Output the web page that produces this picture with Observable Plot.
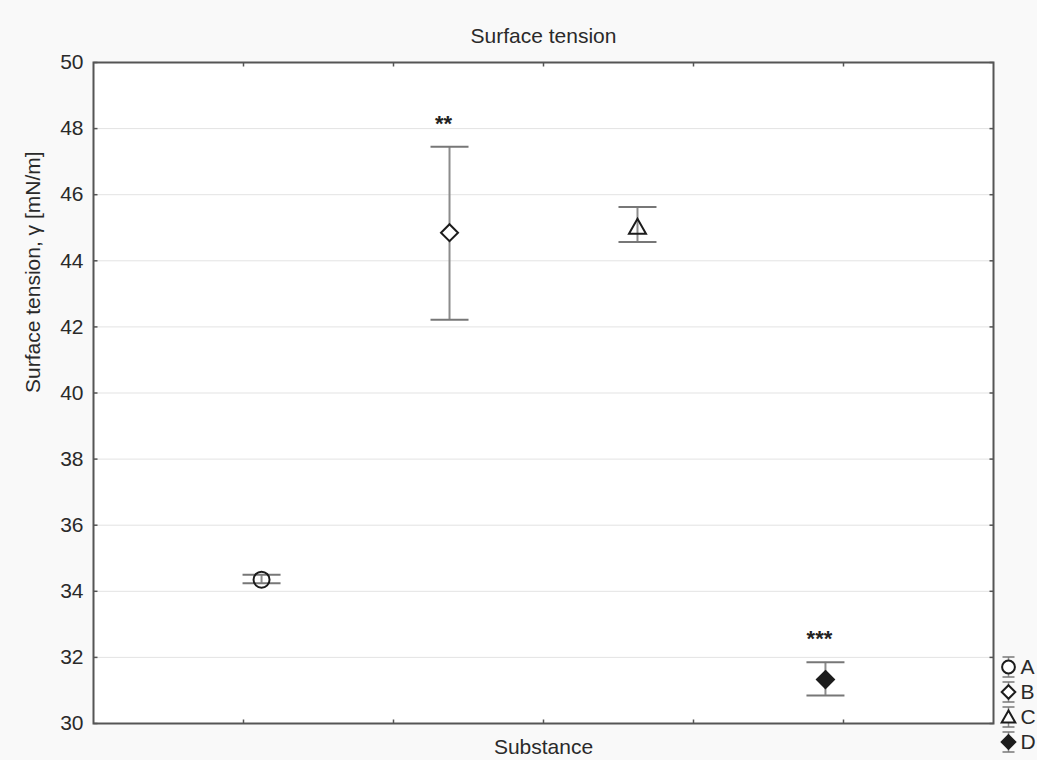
<!DOCTYPE html>
<html>
<head>
<meta charset="utf-8">
<script src="https://cdn.jsdelivr.net/npm/d3@7"></script>
<script src="https://cdn.jsdelivr.net/npm/@observablehq/plot@0.6"></script>
<style>
  html, body { margin: 0; padding: 0; background: #f9f9f9; }
  #wrap { position: relative; width: 1037px; height: 760px; overflow: hidden; }
  #legend { position: absolute; left: 998px; top: 654px; width: 60px; }
  #legend svg { max-width: none !important; }
</style>
</head>
<body>
<div id="wrap"><div id="chart"></div><div id="legend"></div></div>
<script>
// ---- data ----
const substances = ["A", "B", "C", "D"];
const means = [34.35, 44.85, 45.03, 31.33];
const lowers = [34.24, 42.22, 44.57, 30.85];
const uppers = [34.50, 47.45, 45.63, 31.85];
const significance = ["", "**", "", "***"];
const yTicks = [30, 32, 34, 36, 38, 40, 42, 44, 46, 48, 50];
const titleText = "Surface tension";
const xLabel = "Substance";
const yLabel = "Surface tension, \u03b3 [mN/m]";

// ---- styles ----
const FONT = "'Liberation Sans', Arial, Helvetica, sans-serif";
const markerKinds = ["circle", "diamond", "triangle", "diamond"];
const markerFills = ["none", "white", "none", "#1c1c1c"];

const rows = substances.map((s, i) => ({
  substance: s, pos: i + 1, mean: means[i], lo: lowers[i], hi: uppers[i], sig: significance[i]
}));

// custom symbols (pixel-sized)
const hline = w => ({draw(ctx) { ctx.moveTo(-w / 2, 0); ctx.lineTo(w / 2, 0); }});
const vline = (a, b) => ({draw(ctx) { ctx.moveTo(0, a); ctx.lineTo(0, b); }});
const tickLine = (dx, dy) => ({draw(ctx) { ctx.moveTo(0, 0); ctx.lineTo(dx, dy); }});
function shape(kind, k) {
  if (kind === "circle") return {draw(ctx) { const r = 8 * k; ctx.moveTo(r, 0); ctx.arc(0, 0, r, 0, 2 * Math.PI); ctx.closePath(); }};
  if (kind === "diamond") return {draw(ctx) { const r = 8.5 * k; ctx.moveTo(0, -r); ctx.lineTo(r, 0); ctx.lineTo(0, r); ctx.lineTo(-r, 0); ctx.closePath(); }};
  return {draw(ctx) { const w = 8.5 * k; ctx.moveTo(0, -8 * k); ctx.lineTo(w, 7 * k); ctx.lineTo(-w, 7 * k); ctx.closePath(); }};
}

// x: linear positions 1..4 with outer padding; frame ticks divide the frame into sixths
const pad = 0.894;
const xDomain = [1 - pad, substances.length + pad];
const xTicks = d3.range(1, 6).map(k => xDomain[0] + k * (xDomain[1] - xDomain[0]) / 6);

const frameColor = "#555";
const barColor = "#8c8c8c";
const textColor = "#2a2a2a";

const chart = Plot.plot({
  width: 1037,
  height: 760,
  marginLeft: 93,
  marginRight: 44,
  marginTop: 62,
  marginBottom: 37,
  style: {fontFamily: FONT, fontSize: "21px", background: "transparent", color: textColor},
  x: {domain: xDomain, axis: null},
  y: {domain: [30, 50], axis: null},
  marks: [
    Plot.frame({fill: "white", stroke: null}),
    Plot.gridY(yTicks, {stroke: "#e3e3e3", strokeOpacity: 1, strokeWidth: 1}),
    // inward ticks
    Plot.dot(yTicks, {y: d => d, frameAnchor: "left", symbol: tickLine(4, 0), stroke: frameColor, strokeWidth: 1.5}),
    Plot.dot(yTicks, {y: d => d, frameAnchor: "right", symbol: tickLine(-4, 0), stroke: frameColor, strokeWidth: 1.5}),
    Plot.dot(xTicks, {x: d => d, frameAnchor: "bottom", symbol: tickLine(0, -4), stroke: frameColor, strokeWidth: 1.5}),
    Plot.dot(xTicks, {x: d => d, frameAnchor: "top", symbol: tickLine(0, 4), stroke: frameColor, strokeWidth: 1.5}),
    Plot.axisY(yTicks, {tickSize: 0, tickPadding: 10, fontSize: 21, fill: textColor}),
    Plot.frame({stroke: frameColor, strokeWidth: 2}),
    // error bars
    Plot.ruleX(rows, {x: "pos", y1: "lo", y2: "hi", stroke: barColor, strokeWidth: 2}),
    Plot.dot(rows, {x: "pos", y: "lo", symbol: hline(38), stroke: "#777", strokeWidth: 2}),
    Plot.dot(rows, {x: "pos", y: "hi", symbol: hline(38), stroke: "#777", strokeWidth: 2}),
    // markers
    ...rows.map((r, i) => Plot.dot([r], {
      x: "pos", y: "mean", symbol: shape(markerKinds[i], 1),
      fill: markerFills[i], stroke: "#1c1c1c", strokeWidth: 2
    })),
    // significance
    Plot.text(rows.filter(d => d.sig), {x: "pos", y: "hi", text: "sig", dy: -23, dx: -6, fontSize: 22, fontWeight: "bold", fill: "#222"}),
    // titles
    Plot.text([titleText], {frameAnchor: "top", lineAnchor: "middle", dy: -26, fontSize: 21, fill: textColor}),
    Plot.text([xLabel], {frameAnchor: "bottom", lineAnchor: "middle", dy: 24, fontSize: 21, fill: textColor}),
    Plot.text([yLabel], {frameAnchor: "left", dx: -60, rotate: -90, fontSize: 21, fill: textColor})
  ]
});
document.getElementById("chart").appendChild(chart);

// legend
const legend = Plot.plot({
  width: 60,
  height: 100,
  margin: 0,
  style: {fontFamily: FONT, fontSize: "21px", background: "transparent", overflow: "visible"},
  x: {axis: null},
  y: {type: "band", domain: substances, range: [0, 100], padding: 0, axis: null},
  marks: [
    Plot.dot(rows, {y: "substance", frameAnchor: "left", dx: 10, symbol: vline(-10, 10), stroke: barColor, strokeWidth: 1.5}),
    Plot.dot(rows, {y: "substance", frameAnchor: "left", dx: 10, dy: -10, symbol: hline(12), stroke: "#777", strokeWidth: 1.5}),
    Plot.dot(rows, {y: "substance", frameAnchor: "left", dx: 10, dy: 10, symbol: hline(12), stroke: "#777", strokeWidth: 1.5}),
    ...rows.map((r, i) => Plot.dot([r], {
      y: "substance", frameAnchor: "left", dx: 10, symbol: shape(markerKinds[i], 0.8),
      fill: markerFills[i] === "none" ? "white" : markerFills[i], stroke: "#1c1c1c", strokeWidth: 2
    })),
    Plot.text(rows, {y: "substance", text: "substance", frameAnchor: "left", dx: 22, textAnchor: "start", fill: textColor})
  ]
});
document.getElementById("legend").appendChild(legend);
</script>
</body>
</html>
